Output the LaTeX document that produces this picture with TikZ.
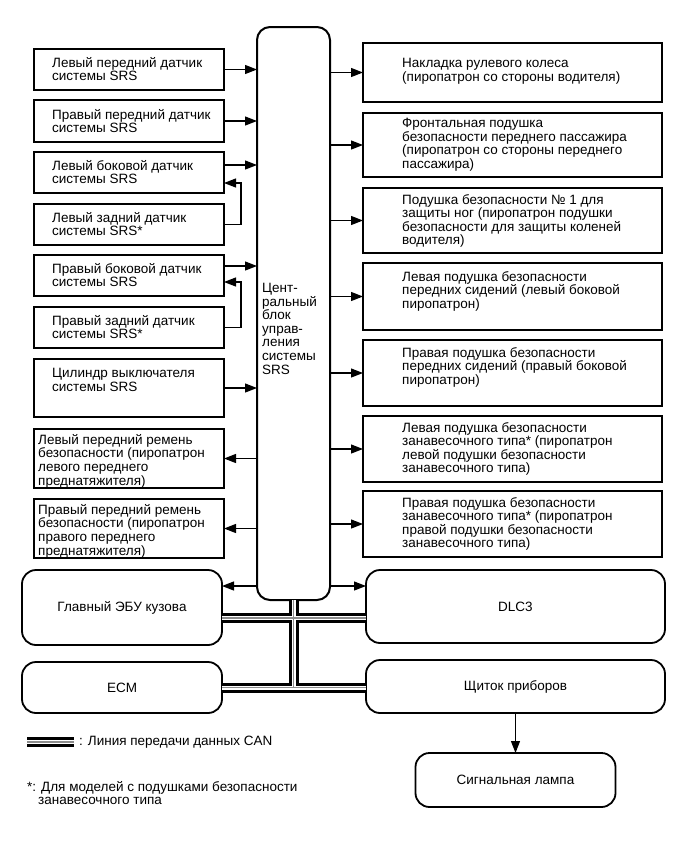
\documentclass[tikz,border=0pt]{standalone}
\usepackage{fontspec}
\setmainfont{Liberation Sans}
\usetikzlibrary{calc,arrows.meta}

\tikzset{
	blk/.style={draw, line width=2.6pt, anchor=north west, inner sep=0pt, outer sep=0pt},
	rblk/.style={draw, line width=1.8pt, rounded corners=14pt, anchor=north west, inner sep=0pt, outer sep=0pt},
	txt/.style={anchor=north west, inner sep=0pt, align=left},
	arr/.style={line width=1.2pt, -{Triangle[length=12pt, width=9pt]}},
	canbus/.style={line width=10pt, draw=black, postaction={draw=white, line width=4pt}, postaction={draw=black!45, line width=1.4pt}}
}

\begin{document}
\begin{tikzpicture}[x=1pt, y=-1pt, font=\fontsize{13.5}{13.6}\selectfont]
			%%%%% START %%%%%
			\useasboundingbox (0,0) rectangle (690,855);
			
			% central unit
			\node[rblk, line width=2pt, rounded corners=13pt, minimum width=73, minimum height=573] (ecu) at (257,27) {};
			\node[txt] (ecutx) at ($(ecu.north west)+(5,256)$) {Цент-\\ральный\\блок\\управ-\\ления\\системы\\SRS};
			
			% left column
			\node[blk, minimum width=190, minimum height=41] (sensLF) at (34,49) {};
			\node[txt] (sensLFtx) at ($(sensLF.north west)+(18,8)$) {Левый передний датчик\\системы SRS};
			\node[blk, minimum width=190, minimum height=42] (sensRF) at (34,100) {};
			\node[txt] (sensRFtx) at ($(sensRF.north west)+(18,9)$) {Правый передний датчик\\системы SRS};
			\node[blk, minimum width=190, minimum height=41] (sensLS) at (34,152) {};
			\node[txt] (sensLStx) at ($(sensLS.north west)+(18,8)$) {Левый боковой датчик\\системы SRS};
			\node[blk, minimum width=190, minimum height=41] (sensLR) at (34,204) {};
			\node[txt] (sensLRtx) at ($(sensLR.north west)+(18,8)$) {Левый задний датчик\\системы SRS*};
			\node[blk, minimum width=190, minimum height=41] (sensRS) at (34,255) {};
			\node[txt] (sensRStx) at ($(sensRS.north west)+(18,8)$) {Правый боковой датчик\\системы SRS};
			\node[blk, minimum width=190, minimum height=41] (sensRR) at (34,307) {};
			\node[txt] (sensRRtx) at ($(sensRR.north west)+(18,8)$) {Правый задний датчик\\системы SRS*};
			\node[blk, minimum width=190, minimum height=58] (cylSw) at (34,359) {};
			\node[txt] (cylSwtx) at ($(cylSw.north west)+(18,9)$) {Цилиндр выключателя\\системы SRS};
			\node[blk, minimum width=190, minimum height=59] (beltL) at (34,429) {};
			\node[txt] (beltLtx) at ($(beltL.north west)+(4,5)$) {Левый передний ремень\\безопасности (пиропатрон\\левого переднего\\преднатяжителя)};
			\node[blk, minimum width=190, minimum height=59] (beltR) at (34,499) {};
			\node[txt] (beltRtx) at ($(beltR.north west)+(4,5)$) {Правый передний ремень\\безопасности (пиропатрон\\правого переднего\\преднатяжителя)};
			
			% right column
			\node[blk, minimum width=299, minimum height=59] (padWheel) at (363,43) {};
			\node[txt] (padWheeltx) at ($(padWheel.north west)+(39,15)$) {Накладка рулевого колеса\\(пиропатрон со стороны водителя)};
			\node[blk, minimum width=299, minimum height=64] (padPass) at (363,113) {};
			\node[txt] (padPasstx) at ($(padPass.north west)+(39,5)$) {Фронтальная подушка\\безопасности переднего пассажира\\(пиропатрон со стороны переднего\\пассажира)};
			\node[blk, minimum width=299, minimum height=65] (padKnee) at (363,188) {};
			\node[txt] (padKneetx) at ($(padKnee.north west)+(39,6)$) {Подушка безопасности № 1 для\\защиты ног (пиропатрон подушки\\безопасности для защиты коленей\\водителя)};
			\node[blk, minimum width=299, minimum height=67] (padSideL) at (363,263) {};
			\node[txt] (padSideLtx) at ($(padSideL.north west)+(39,8)$) {Левая подушка безопасности\\передних сидений (левый боковой\\пиропатрон)};
			\node[blk, minimum width=299, minimum height=66] (padSideR) at (363,340) {};
			\node[txt] (padSideRtx) at ($(padSideR.north west)+(39,7)$) {Правая подушка безопасности\\передних сидений (правый боковой\\пиропатрон)};
			\node[blk, minimum width=299, minimum height=66] (curtL) at (363,416) {};
			\node[txt] (curtLtx) at ($(curtL.north west)+(39,6)$) {Левая подушка безопасности\\занавесочного типа* (пиропатрон\\левой подушки безопасности\\занавесочного типа)};
			\node[blk, minimum width=299, minimum height=66] (curtR) at (363,491) {};
			\node[txt] (curtRtx) at ($(curtR.north west)+(39,6)$) {Правая подушка безопасности\\занавесочного типа* (пиропатрон\\правой подушки безопасности\\занавесочного типа)};
			
			% bottom units
			\node[rblk, minimum width=200, minimum height=75] (bodyEcu) at (22,570) {Главный ЭБУ кузова};
			\node[rblk, minimum width=299, minimum height=73] (dlc) at (366,570) {DLC3};
			\node[rblk, minimum width=200, minimum height=51] (ecm) at (22,662) {ECM};
			\node[rblk, minimum width=299, minimum height=53] (meter) at (366,660) {Щиток приборов};
			\node[rblk, minimum width=200, minimum height=54] (lamp) at (415.5,753) {Сигнальная лампа};
			
			% signal lines
			\draw[arr] (sensLF.east) -- (sensLF.east -| ecu.west);
			\draw[arr] (sensRF.east) -- (sensRF.east -| ecu.west);
			\draw[arr] ($(sensLS.north east)+(0,13)$) coordinate (aLS) -- (aLS -| ecu.west);
			\draw[arr] (sensLR.east) -- ++(17,0) |- ($(sensLS.south east)+(0,-10)$);
			\draw[arr] ($(sensRS.north east)+(0,11)$) coordinate (aRS) -- (aRS -| ecu.west);
			\draw[arr] (sensRR.east) -- ++(17,0) |- ($(sensRS.south east)+(0,-14)$);
			\draw[arr] (cylSw.east) -- (cylSw.east -| ecu.west);
			\draw[arr] (beltL.east -| ecu.west) -- (beltL.east);
			\draw[arr] (beltR.east -| ecu.west) -- (beltR.east);
			
			\draw[arr] (padWheel.west -| ecu.east) -- (padWheel.west);
			\draw[arr] (padPass.west -| ecu.east) -- (padPass.west);
			\draw[arr] (padKnee.west -| ecu.east) -- (padKnee.west);
			\draw[arr] (padSideL.west -| ecu.east) -- (padSideL.west);
			\draw[arr] (padSideR.west -| ecu.east) -- (padSideR.west);
			\draw[arr] (curtL.west -| ecu.east) -- (curtL.west);
			\draw[arr] (curtR.west -| ecu.east) -- (curtR.west);
			
			\coordinate (bodyIn) at ($(bodyEcu.north east)+(0,16)$);
			\draw[arr] (bodyIn -| ecu.west) -- (bodyIn);
			\coordinate (dlcIn) at ($(dlc.north west)+(0,16)$);
			\draw[arr] (dlcIn -| ecu.east) -- (dlcIn);
			\draw[arr] (meter.south) -- (lamp.north);
			
			% CAN bus
			\coordinate (busUp) at ($(bodyEcu.north east)+(0,48)$);
			\draw[canbus] (ecu.south) -- (ecu.south |- ecm.east)
				(busUp) -- (busUp -| dlc.west)
				(ecm.east) -- (ecm.east -| meter.west);
			
			% legend
			\coordinate (legA) at (27,742);
			\coordinate (legB) at (74,742);
			\draw[canbus] (legA) -- (legB);
			\node[anchor=west, inner sep=0pt] (legtx) at ($(legB)+(5,0)$) {: Линия передачи данных CAN};
			\node[txt] (foot) at (27,781) {*: Для моделей с подушками безопасности\\\hspace*{11pt}занавесочного типа};
			
			%%%%% END %%%%%
\end{tikzpicture}
\end{document}
